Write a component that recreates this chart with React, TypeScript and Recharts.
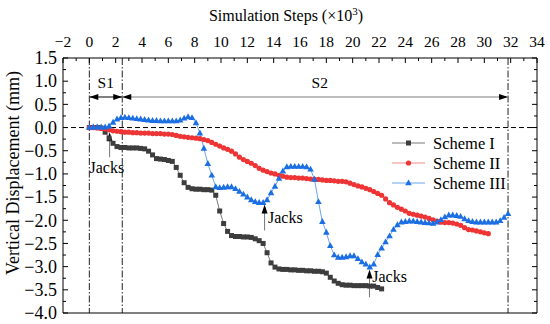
import React from "react";
import {
  ComposedChart,
  Line,
  XAxis,
  YAxis,
  ReferenceLine,
  ReferenceDot,
  Legend,
} from "recharts";

const FONT = '"Liberation Serif", "Times New Roman", serif';
const TXT = { fontFamily: FONT };

// sample spacing along the x axis (×10³ steps)
const STEP = 0.3;

const SCHEME_I = [
  0, 0, 0, -0.01, -0.1, -0.23, -0.34, -0.41, -0.43, -0.43,
  -0.44, -0.44, -0.44, -0.45, -0.46, -0.51, -0.59, -0.67, -0.68, -0.69,
  -0.71, -0.73, -0.86, -1.03, -1.19, -1.29, -1.32, -1.33, -1.33, -1.34,
  -1.34, -1.35, -1.46, -1.8, -2.07, -2.24, -2.33, -2.35, -2.35, -2.36,
  -2.36, -2.37, -2.4, -2.44, -2.5, -2.7, -2.92, -3.01, -3.05, -3.06,
  -3.06, -3.07, -3.07, -3.08, -3.08, -3.09, -3.09, -3.1, -3.1, -3.11,
  -3.14, -3.23, -3.31, -3.36, -3.39, -3.4, -3.4, -3.41, -3.41, -3.41,
  -3.41, -3.42, -3.42, -3.45, -3.48,
];

const SCHEME_II = [
  0, 0, -0.01, -0.02, -0.03, -0.05, -0.07, -0.08, -0.09, -0.1,
  -0.1, -0.11, -0.11, -0.12, -0.12, -0.12, -0.13, -0.13, -0.13, -0.14,
  -0.14, -0.15, -0.17, -0.19, -0.2, -0.21, -0.22, -0.23, -0.24, -0.26,
  -0.28, -0.32, -0.36, -0.4, -0.44, -0.47, -0.51, -0.57, -0.64, -0.69,
  -0.73, -0.77, -0.82, -0.88, -0.92, -0.95, -0.98, -1.0, -1.03, -1.05,
  -1.07, -1.08, -1.08, -1.09, -1.09, -1.1, -1.11, -1.12, -1.12, -1.13,
  -1.14, -1.14, -1.15, -1.16, -1.16, -1.17, -1.2, -1.23, -1.26, -1.28,
  -1.31, -1.34, -1.38, -1.42, -1.46, -1.54, -1.62, -1.67, -1.72, -1.76,
  -1.8, -1.85, -1.87, -1.89, -1.91, -1.93, -1.96, -1.99, -2.02, -2.04,
  -2.05, -2.05, -2.06, -2.08, -2.11, -2.16, -2.2, -2.21, -2.23, -2.25,
  -2.27, -2.29,
];

const SCHEME_III = [
  0, 0.01, 0.01, 0.01, 0.01, 0.03, 0.11, 0.18, 0.21, 0.22,
  0.21, 0.2, 0.19, 0.18, 0.17, 0.16, 0.15, 0.15, 0.14, 0.14,
  0.14, 0.14, 0.14, 0.16, 0.2, 0.23, 0.21, 0.1, -0.12, -0.45,
  -0.78, -1.03, -1.28, -1.3, -1.29, -1.28, -1.28, -1.32, -1.38, -1.44,
  -1.5, -1.56, -1.6, -1.62, -1.62, -1.56, -1.41, -1.27, -1.1, -0.94,
  -0.85, -0.84, -0.84, -0.84, -0.84, -0.85, -0.9, -1.12, -1.6, -2.03,
  -2.26, -2.55, -2.75, -2.8, -2.8, -2.79, -2.77, -2.77, -2.83, -2.9,
  -2.95, -3.01, -2.95, -2.74, -2.6, -2.47, -2.34, -2.2, -2.1, -2.04,
  -2.03, -2.02, -2.02, -2.03, -2.04, -2.05, -2.06, -2.07, -2.04, -1.99,
  -1.93, -1.89, -1.89, -1.9, -1.92, -1.97, -2.01, -2.03, -2.04, -2.04,
  -2.04, -2.04, -2.04, -2.04, -2.01, -1.94, -1.86,
];

const X_LABELS = [-2, 0, 2, 4, 6, 8, 10, 12, 14, 16, 18, 20, 22, 24, 26, 28, 30, 32, 34];
const Y_LABELS = [1.5, 1.0, 0.5, 0.0, -0.5, -1.0, -1.5, -2.0, -2.5, -3.0, -3.5, -4.0];

// stage boundaries (dash-dot lines) and the stage arrows' level
const STAGE_X = [0, 2.5, 31.8];
const STAGE_Y = 0.66;
const STAGE_LABEL_Y = 0.96;

// jack annotations: arrow x, arrow tail, arrow tip, label position
const JACKS = [
  { x: 1.54, from: -0.64, to: -0.1, lx: 1.33, ly: -0.85, anchor: "middle" },
  { x: 13.31, from: -2.22, to: -1.66, lx: 13.57, ly: -1.93, anchor: "start" },
  { x: 21.28, from: -3.66, to: -3.06, lx: 21.49, ly: -3.2, anchor: "start" },
];

const toPoints = (values: number[]) =>
  values.map((v, i) => ({ step: +(i * STEP).toFixed(2), v }));

const SERIES = [
  { name: "Scheme I", data: toPoints(SCHEME_I), color: "#3d3d3d", line: "#7a7a7a", shape: "square" },
  { name: "Scheme II", data: toPoints(SCHEME_II), color: "#ee3434", line: "#f48a8a", shape: "circle" },
  { name: "Scheme III", data: toPoints(SCHEME_III), color: "#1c6fe3", line: "#6aa4f2", shape: "triangle" },
];

const X_TICKS = X_LABELS.flatMap((v, i) => (i < X_LABELS.length - 1 ? [v, v + 1] : [v]));
const Y_TICKS = Y_LABELS.flatMap((v, i) => (i < Y_LABELS.length - 1 ? [v, v - 0.25] : [v]));

const TICK_MARGIN = 4;
const minus = (s: string) => s.replace("-", "\u2212");

function marker(shape: string, cx: number, cy: number, color: string, key?: any) {
  if (shape === "square")
    return <rect key={key} x={cx - 2.5} y={cy - 2.5} width={5} height={5} fill={color} />;
  if (shape === "circle") return <circle key={key} cx={cx} cy={cy} r={2.6} fill={color} />;
  return (
    <polygon
      key={key}
      points={`${cx},${cy - 3.6} ${cx + 3.3},${cy + 2.3} ${cx - 3.3},${cy + 2.3}`}
      fill={color}
    />
  );
}

function TopTick(p: any) {
  const { x, y, payload } = p;
  const major = X_LABELS.includes(payload.value);
  const axisY = y + TICK_MARGIN;
  return (
    <g>
      <line x1={x} x2={x} y1={axisY} y2={axisY + (major ? 5 : 3)} stroke="#000" />
      {major && (
        <text x={x} y={axisY - 11} textAnchor="middle" fontSize={15.5} style={TXT} fill="#000">
          {minus(String(payload.value))}
        </text>
      )}
    </g>
  );
}

function BottomTick(p: any) {
  const { x, y, payload } = p;
  const major = X_LABELS.includes(payload.value);
  const axisY = y - TICK_MARGIN;
  return <line x1={x} x2={x} y1={axisY} y2={axisY - (major ? 5 : 3)} stroke="#000" />;
}

function LeftTick(p: any) {
  const { x, y, payload } = p;
  const major = Y_LABELS.includes(payload.value);
  const axisX = x + TICK_MARGIN;
  return (
    <g>
      <line x1={axisX} x2={axisX + (major ? 5 : 3)} y1={y} y2={y} stroke="#000" />
      {major && (
        <text x={axisX - 6} y={y} dy="0.35em" textAnchor="end" fontSize={18} style={TXT} fill="#000">
          {minus(payload.value.toFixed(1))}
        </text>
      )}
    </g>
  );
}

function RightTick(p: any) {
  const { x, y, payload } = p;
  const major = Y_LABELS.includes(payload.value);
  const axisX = x - TICK_MARGIN;
  return <line x1={axisX} x2={axisX - (major ? 5 : 3)} y1={y} y2={y} stroke="#000" />;
}

function head(x: number, y: number, dir: string, fill: string) {
  const pts =
    dir === "left"
      ? `${x},${y} ${x + 9},${y - 3} ${x + 9},${y + 3}`
      : dir === "right"
      ? `${x},${y} ${x - 9},${y - 3} ${x - 9},${y + 3}`
      : `${x},${y} ${x - 3},${y + 9} ${x + 3},${y + 9}`;
  return <polygon points={pts} fill={fill} />;
}

const stageArrow = (color: string) => (p: any) => (
  <g>
    <line x1={p.x1} x2={p.x2} y1={p.y1} y2={p.y2} stroke={color} strokeWidth={1.5} />
    {head(p.x1, p.y1, "left", "#000")}
    {head(p.x2, p.y2, "right", "#000")}
  </g>
);

const jackArrow = (p: any) => (
  <g>
    <line x1={p.x1} x2={p.x2} y1={p.y1} y2={p.y2 + 6} stroke="#777" strokeWidth={1} />
    {head(p.x2, p.y2, "up", "#000")}
  </g>
);

const textShape = (value: string, anchor: string, size: number) => (p: any) => (
  <text x={p.cx} y={p.cy} dy="0.35em" textAnchor={anchor} fontSize={size} style={TXT} fill="#000">
    {value}
  </text>
);

function LegendBox() {
  return (
    <svg width={140} height={62} style={{ display: "block" }}>
      {SERIES.map((s, i) => {
        const cy = 10 + i * 20;
        return (
          <g key={s.name}>
            <line x1={2} x2={35} y1={cy} y2={cy} stroke={s.line} />
            {marker(s.shape, 18.5, cy, s.color)}
            <text x={43} y={cy} dy="0.35em" fontSize={16.5} style={TXT} fill="#000">
              {s.name}
            </text>
          </g>
        );
      })}
    </svg>
  );
}

export default function App() {
  return (
    <div style={{ position: "absolute", left: 0, top: 0, background: "#fff" }}>
      <ComposedChart width={550} height={324} margin={{ top: 0, right: 0, bottom: 0, left: 0 }}>
        <XAxis
          dataKey="step"
          type="number"
          orientation="top"
          domain={[-2, 34]}
          ticks={X_TICKS}
          interval={0}
          height={58}
          allowDataOverflow
          tickSize={0}
          tickMargin={TICK_MARGIN}
          tickLine={false}
          axisLine={{ stroke: "#000" }}
          tick={TopTick}
          label={{
            content: () => (
              <text x={286} y={21} textAnchor="middle" fontSize={16} style={TXT} fill="#000">
                Simulation Steps (×10
                <tspan dy={-6} fontSize={11}>3</tspan>
                <tspan dy={6}>)</tspan>
              </text>
            ),
          }}
        />
        <XAxis
          xAxisId="b"
          type="number"
          orientation="bottom"
          domain={[-2, 34]}
          ticks={X_TICKS}
          interval={0}
          height={11}
          allowDataOverflow
          tickSize={0}
          tickMargin={TICK_MARGIN}
          tickLine={false}
          axisLine={{ stroke: "#000" }}
          tick={BottomTick}
        />
        <YAxis
          type="number"
          domain={[-4, 1.5]}
          ticks={Y_TICKS}
          interval={0}
          width={63}
          allowDataOverflow
          tickSize={0}
          tickMargin={TICK_MARGIN}
          tickLine={false}
          axisLine={{ stroke: "#000" }}
          tick={LeftTick}
          label={{
            content: () => (
              <text
                x={19}
                y={173}
                transform="rotate(-90 19 173)"
                textAnchor="middle"
                fontSize={18}
                style={TXT}
                fill="#000"
              >
                Vertical Displacement (mm)
              </text>
            ),
          }}
        />
        <YAxis
          yAxisId="r"
          type="number"
          orientation="right"
          domain={[-4, 1.5]}
          ticks={Y_TICKS}
          interval={0}
          width={13}
          allowDataOverflow
          tickSize={0}
          tickMargin={TICK_MARGIN}
          tickLine={false}
          axisLine={{ stroke: "#000" }}
          tick={RightTick}
        />

        <ReferenceLine y={0} stroke="#000" strokeDasharray="5 3" />
        {STAGE_X.map((x) => (
          <ReferenceLine key={x} x={x} stroke="#222" strokeDasharray="7 2 1.5 2" />
        ))}

        <ReferenceLine
          segment={[{ x: STAGE_X[0], y: STAGE_Y }, { x: STAGE_X[1], y: STAGE_Y }]}
          shape={stageArrow("#555")}
        />
        <ReferenceLine
          segment={[{ x: STAGE_X[1], y: STAGE_Y }, { x: STAGE_X[2], y: STAGE_Y }]}
          shape={stageArrow("#a8a8a8")}
        />
        <ReferenceDot x={1.25} y={STAGE_LABEL_Y} shape={textShape("S1", "middle", 15.5)} />
        <ReferenceDot x={17.5} y={STAGE_LABEL_Y} shape={textShape("S2", "middle", 15.5)} />

        {SERIES.map((s) => (
          <Line
            key={s.name}
            name={s.name}
            data={s.data}
            dataKey="v"
            type="linear"
            stroke={s.line}
            strokeWidth={1}
            dot={(p: any) => marker(s.shape, p.cx, p.cy, s.color, p.index)}
            activeDot={false}
            isAnimationActive={false}
          />
        ))}

        {JACKS.map((j) => (
          <ReferenceLine
            key={`a${j.x}`}
            segment={[{ x: j.x, y: j.from }, { x: j.x, y: j.to }]}
            shape={jackArrow}
          />
        ))}
        {JACKS.map((j) => (
          <ReferenceDot key={`t${j.x}`} x={j.lx} y={j.ly} shape={textShape("Jacks", j.anchor, 16)} />
        ))}

        <Legend
          layout="vertical"
          align="center"
          verticalAlign="middle"
          width={140}
          height={62}
          wrapperStyle={{ left: 390, top: 133, width: 140, height: 62 }}
          content={() => <LegendBox />}
        />
      </ComposedChart>
    </div>
  );
}
